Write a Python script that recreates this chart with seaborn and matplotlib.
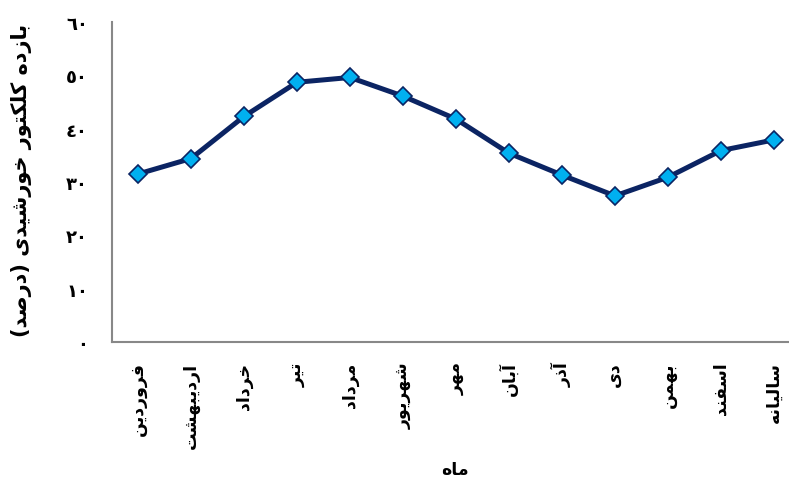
import matplotlib
matplotlib.use("Agg")
import matplotlib.pyplot as plt
import seaborn as sns
import pandas as pd

# Monthly solar collector efficiency (percent), Persian calendar months plus the annual value
months = ["فروردین", "اردیبهشت", "خرداد", "تیر", "مرداد", "شهریور", "مهر",
          "آبان", "آذر", "دی", "بهمن", "اسفند", "سالیانه"]
efficiency = [31.5, 34.4, 42.3, 48.7, 49.6, 46.1, 41.8, 35.4, 31.3, 27.4, 30.9, 35.9, 37.9]
y_ticks = [0, 10, 20, 30, 40, 50, 60]
y_label = "بازده کلکتور خورشیدی (درصد)"
x_label = "ماه"

# Contextual letter forms: (isolated, final, initial, medial)
FORMS = {
    'ا': ('\uFE8D', '\uFE8E', None, None),
    'آ': ('\uFE81', '\uFE82', None, None),
    'د': ('\uFEA9', '\uFEAA', None, None),
    'ذ': ('\uFEAB', '\uFEAC', None, None),
    'ر': ('\uFEAD', '\uFEAE', None, None),
    'ز': ('\uFEAF', '\uFEB0', None, None),
    'و': ('\uFEED', '\uFEEE', None, None),
    'ب': ('\uFE8F', '\uFE90', '\uFE91', '\uFE92'),
    'ت': ('\uFE95', '\uFE96', '\uFE97', '\uFE98'),
    'خ': ('\uFEA5', '\uFEA6', '\uFEA7', '\uFEA8'),
    'س': ('\uFEB1', '\uFEB2', '\uFEB3', '\uFEB4'),
    'ش': ('\uFEB5', '\uFEB6', '\uFEB7', '\uFEB8'),
    'ص': ('\uFEB9', '\uFEBA', '\uFEBB', '\uFEBC'),
    'ف': ('\uFED1', '\uFED2', '\uFED3', '\uFED4'),
    'ل': ('\uFEDD', '\uFEDE', '\uFEDF', '\uFEE0'),
    'م': ('\uFEE1', '\uFEE2', '\uFEE3', '\uFEE4'),
    'ن': ('\uFEE5', '\uFEE6', '\uFEE7', '\uFEE8'),
    'ه': ('\uFEE9', '\uFEEA', '\uFEEB', '\uFEEC'),
    'ی': ('\uFBFC', '\uFBFD', '\uFBFE', '\uFBFF'),
    'ک': ('\uFB8E', '\uFB8F', '\uFB90', '\uFB91'),
}


def persian(text):
    """Join letters into their contextual forms and lay them out right to left."""
    out = []
    for i, ch in enumerate(text):
        if ch not in FORMS:
            out.append(ch)
            continue
        prev = text[i - 1] if i > 0 else ''
        nxt = text[i + 1] if i + 1 < len(text) else ''
        join_prev = prev in FORMS and FORMS[prev][2] is not None
        join_next = FORMS[ch][2] is not None and nxt in FORMS
        if join_prev and join_next:
            form = 3
        elif join_prev:
            form = 1
        elif join_next:
            form = 2
        else:
            form = 0
        out.append(FORMS[ch][form])
    return ''.join(reversed(out)).translate(str.maketrans('()', ')('))


def arabic_digits(n):
    return ''.join(chr(0x0660 + int(d)) for d in str(n))


sns.set_style("white")
plt.rcParams['font.family'] = ['DejaVu Sans']
plt.rcParams['font.weight'] = 'bold'
plt.rcParams['text.color'] = 'black'
plt.rcParams['xtick.color'] = 'black'
plt.rcParams['ytick.color'] = 'black'

df = pd.DataFrame({"month": range(len(months)), "efficiency": efficiency})

W, H = 789, 481
fig = plt.figure(figsize=(W / 100, H / 100), dpi=100)
ax = fig.add_axes([111.5 / W, 1 - 343 / H, 689 / W, 320 / H])

navy = "#0b2463"
sns.lineplot(data=df, x="month", y="efficiency", ax=ax, color=navy, linewidth=3.6,
             marker="D", markersize=9.5, markerfacecolor="#00b0f0",
             markeredgecolor=navy, markeredgewidth=1.2)

ax.set_xlim(-0.5, len(months) - 0.5)
ax.set_ylim(y_ticks[0], y_ticks[-1])
ax.set_yticks(y_ticks)
ax.set_yticklabels([arabic_digits(v) for v in y_ticks], fontsize=13, fontweight='bold',
                   color='black')
ax.set_xticks(range(len(months)))
ax.set_xticklabels([persian(m) for m in months], rotation=90, fontsize=12.5,
                   fontweight='bold', va='top', ha='center', color='black')
ax.tick_params(axis='x', length=0, pad=14)
ax.tick_params(axis='y', length=6, width=1.2, color='#888888', pad=11, direction='out')
ax.set_xlabel("")
ax.set_ylabel("")

for side in ("top", "right"):
    ax.spines[side].set_visible(False)
for side in ("left", "bottom"):
    ax.spines[side].set_color('#888888')
    ax.spines[side].set_linewidth(1.5)

fig.text(22 / W, 1 - 180 / H, persian(y_label), rotation=90, ha='center', va='center',
         fontsize=15, fontweight='bold', color='black')
fig.text(455 / W, 1 - 470 / H, persian(x_label), ha='center', va='center',
         fontsize=12.5, fontweight='bold', color='black')

fig.savefig("out.png", dpi=100)
